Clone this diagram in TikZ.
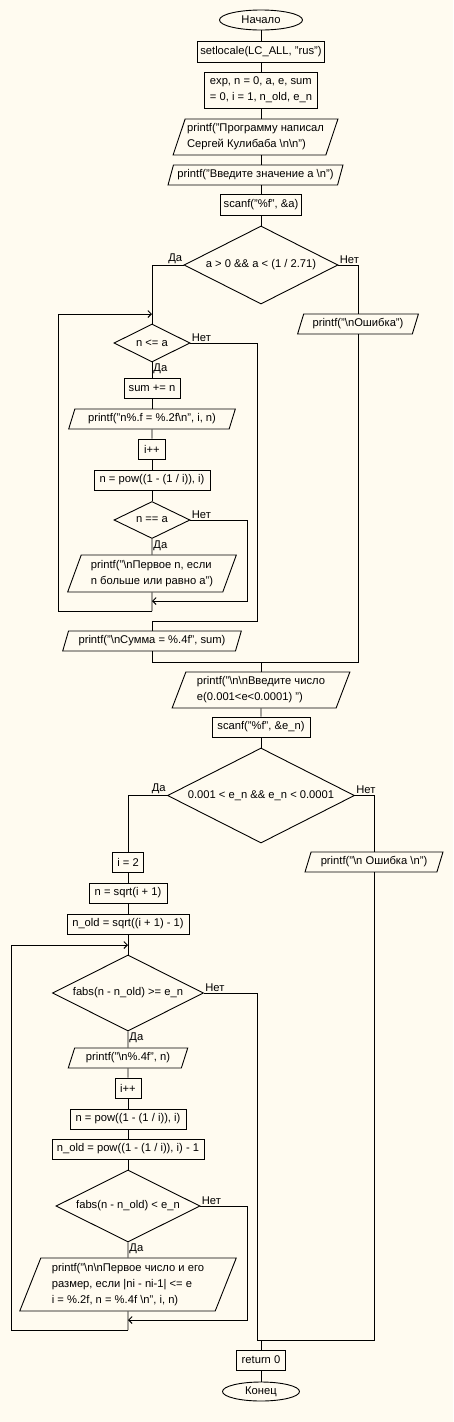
\documentclass[tikz,border=0pt]{standalone}
\usepackage{fontspec}
\setmainfont{Liberation Sans}
\usetikzlibrary{arrows.meta,shapes.geometric}
\definecolor{sheet}{HTML}{FFFBF0}
\newcommand{\bs}{\textbackslash}

\begin{document}
\begin{tikzpicture}[x=1pt, y=-1pt, line width=0.9pt,
    every node/.style={font=\fontsize{11.2}{16}\selectfont},
    block/.style={rectangle, draw, inner xsep=3pt, inner ysep=2pt, align=left},
    io/.style={trapezium, trapezium left angle=67, trapezium right angle=113, trapezium stretches=true, draw, inner xsep=2pt, inner ysep=1pt, align=left},
    decision/.style={diamond, draw, aspect=2, inner sep=0pt},
    terminal/.style={ellipse, draw, inner sep=0pt},
    answer/.style={inner sep=1pt},
    back/.style={-{Straight Barb[length=3.5pt, width=7pt]}}]

         \fill[sheet] (0,0) rectangle (453,1422);
         \useasboundingbox (0,0) rectangle (453,1422);

         \node [terminal, minimum width=83pt, minimum height=20pt]  (start)     at (261,20)     {Начало};
         \node [block, minimum width=124pt, minimum height=21pt]    (setlocale) at (261,51.5)   {setlocale(LC\_ALL, "rus")};
         \node [block, minimum width=113pt, minimum height=36pt]    (decl)      at (261,90)     {exp, n = 0, a, e, sum\\= 0, i = 1, n\_old, e\_n};
         \node [io, minimum width=161pt, minimum height=36pt]       (author)    at (255.5,137)  {printf("Программу написал\\Сергей Кулибаба \bs n\bs n")};
         \node [io, minimum width=175pt, minimum height=20pt]       (prompta)   at (255.5,175)  {printf("Введите значение а \bs n")};
         \node [block, minimum width=81pt, minimum height=21pt]     (scana)     at (261,204.5)  {scanf("\%f", \&a)};
         \node [decision, minimum width=154pt, minimum height=78pt] (checka)    at (261,265)    {a > 0 \&\& a < (1 / 2.71)};
         \node [io, minimum width=121pt, minimum height=20pt]       (erra)      at (358,324)    {printf("\bs nОшибка")};

         \node [decision, minimum width=76pt, minimum height=38pt]  (loopa)     at (152,343)    {n <= a};
         \node [block, minimum width=56pt, minimum height=20pt]     (sumadd)    at (152,388)    {sum += n};
         \node [io, minimum width=167pt, minimum height=20pt]       (printn)    at (152,419)    {printf("n\%.f = \%.2f\bs n", i, n)};
         \node [block, minimum width=27pt, minimum height=20pt]     (inci)      at (152,449)    {i++};
         \node [block, minimum width=116pt, minimum height=20pt]    (powa)      at (152,480)    {n = pow((1 - (1 / i)), i)};
         \node [decision, minimum width=76pt, minimum height=37pt]  (eqa)       at (152,520)    {n == a};
         \node [io, minimum width=169pt, minimum height=37pt]       (firstn)    at (152,573.5)  {printf("\bs nПервое n, если\\n больше или равно a")};
         \node [io, minimum width=179pt, minimum height=20pt]       (printsum)  at (152,641)    {printf("\bs nСумма = \%.4f", sum)};

         \node [io, minimum width=178pt, minimum height=36pt]       (prompte)   at (261,690)    {printf("\bs n\bs nВведите число\\e(0.001<e<0.0001) ")};
         \node [block, minimum width=98pt, minimum height=20pt]     (scane)     at (261,727)    {scanf("\%f", \&e\_n)};
         \node [decision, minimum width=187pt, minimum height=95pt] (checke)    at (261,795.5)  {0.001 < e\_n \&\& e\_n < 0.0001};
         \node [io, minimum width=138pt, minimum height=20pt]       (errore)    at (374,862)    {printf("\bs n Ошибка \bs n")};

         \node [block, minimum width=31pt, minimum height=20pt]     (initi)     at (128,862)    {i = 2};
         \node [block, minimum width=78pt, minimum height=20pt]     (sqrtn)     at (128,893)    {n = sqrt(i + 1)};
         \node [block, minimum width=122pt, minimum height=20pt]    (sqrtold)   at (128,924)    {n\_old = sqrt((i + 1) - 1)};
         \node [decision, minimum width=151pt, minimum height=76pt] (loope)     at (128,993)    {fabs(n - n\_old) >= e\_n};
         \node [io, minimum width=120pt, minimum height=20pt]       (printnf)   at (128,1058)   {printf("\bs n\%.4f", n)};
         \node [block, minimum width=26pt, minimum height=20pt]     (incj)      at (128,1088)   {i++};
         \node [block, minimum width=116pt, minimum height=20pt]    (pown)      at (128,1119)   {n = pow((1 - (1 / i)), i)};
         \node [block, minimum width=152pt, minimum height=20pt]    (powold)    at (128,1149)   {n\_old = pow((1 - (1 / i)), i) - 1};
         \node [decision, minimum width=144pt, minimum height=72pt] (conde)     at (128,1206)   {fabs(n - n\_old) < e\_n};
         \node [io, minimum width=217pt, minimum height=53pt]       (firstnum)  at (128,1284.5) {printf("\bs n\bs nПервое число и его\\размер, если |ni - ni-1| <= e\\i = \%.2f, n = \%.4f \bs n", i, n)};

         \node [block, minimum width=49pt, minimum height=20pt]     (ret)       at (261,1360)   {return 0};
         \node [terminal, minimum width=77pt, minimum height=19pt]  (stop)      at (261,1391.5) {Конец};

         \coordinate (entera) at (152,314);
         \coordinate (rimb)   at (247,601);
         \coordinate (endeq)  at (152,601);
         \coordinate (backa)  at (152,611);
         \coordinate (lefta)  at (58,611);
         \coordinate (rima)   at (257,621);
         \coordinate (exita)  at (152,621);
         \coordinate (mergea) at (261,662);

         \coordinate (entere) at (128,945);
         \coordinate (rimd)   at (247,1320);
         \coordinate (endcond) at (128,1320);
         \coordinate (backe)  at (128,1330);
         \coordinate (lefte)  at (11,1330);
         \coordinate (rimc)   at (257,1340);
         \coordinate (mergee) at (261,1340);

         \draw (start) -- (setlocale);
         \draw (setlocale) -- (decl);
         \draw (decl) -- (decl |- author.north);
         \draw (decl |- author.south) -- (decl |- prompta.north);
         \draw (decl |- prompta.south) -- (scana);
         \draw (scana) -- (checka);

         \draw (checka.west) node[answer, anchor=south east] (yesa) {Да} -| (loopa);
         \draw (checka.east) node[answer, anchor=south west] (noa) {Нет} -| (erra);
         \draw (erra) |- (mergea);
         \draw (printsum) |- (mergea);
         \draw (mergea) -- (prompte);

         \draw (loopa.south) node[answer, anchor=north west] (yesb) {Да} -- (sumadd);
         \draw (sumadd) -- (printn);
         \draw (printn) -- (inci);
         \draw (inci) -- (powa);
         \draw (powa) -- (eqa);
         \draw (eqa.south) node[answer, anchor=north west] (yesc) {Да} -- (firstn);
         \draw [back] (eqa.east) node[answer, anchor=south west] (noc) {Нет} -| (rimb) -- (endeq);
         \draw (firstn) -- (backa);
         \draw [back] (backa) -- (lefta) |- (entera);
         \draw (loopa.east) node[answer, anchor=south west] (nob) {Нет} -| (rima) -- (exita) -- (printsum);

         \draw (prompte) -- (scane);
         \draw (scane) -- (checke);
         \draw (checke.west) node[answer, anchor=south east] (yesd) {Да} -| (initi);
         \draw (checke.east) node[answer, anchor=south west] (nod) {Нет} -| (errore);

         \draw (initi) -- (sqrtn);
         \draw (sqrtn) -- (sqrtold);
         \draw (sqrtold) -- (loope);
         \draw (loope.south) node[answer, anchor=north west] (yese) {Да} -- (printnf);
         \draw (printnf) -- (incj);
         \draw (incj) -- (pown);
         \draw (pown) -- (powold);
         \draw (powold) -- (conde);
         \draw (conde.south) node[answer, anchor=north west] (yesf) {Да} -- (firstnum);
         \draw [back] (conde.east) node[answer, anchor=south west] (nof) {Нет} -| (rimd) -- (endcond);
         \draw (firstnum) -- (backe);
         \draw [back] (backe) -- (lefte) |- (entere);
         \draw (loope.east) node[answer, anchor=south west] (noe) {Нет} -| (rimc) -- (mergee);
         \draw (errore) |- (mergee);
         \draw (mergee) -- (ret);
         \draw (ret) -- (stop);

\end{tikzpicture}
\end{document}
